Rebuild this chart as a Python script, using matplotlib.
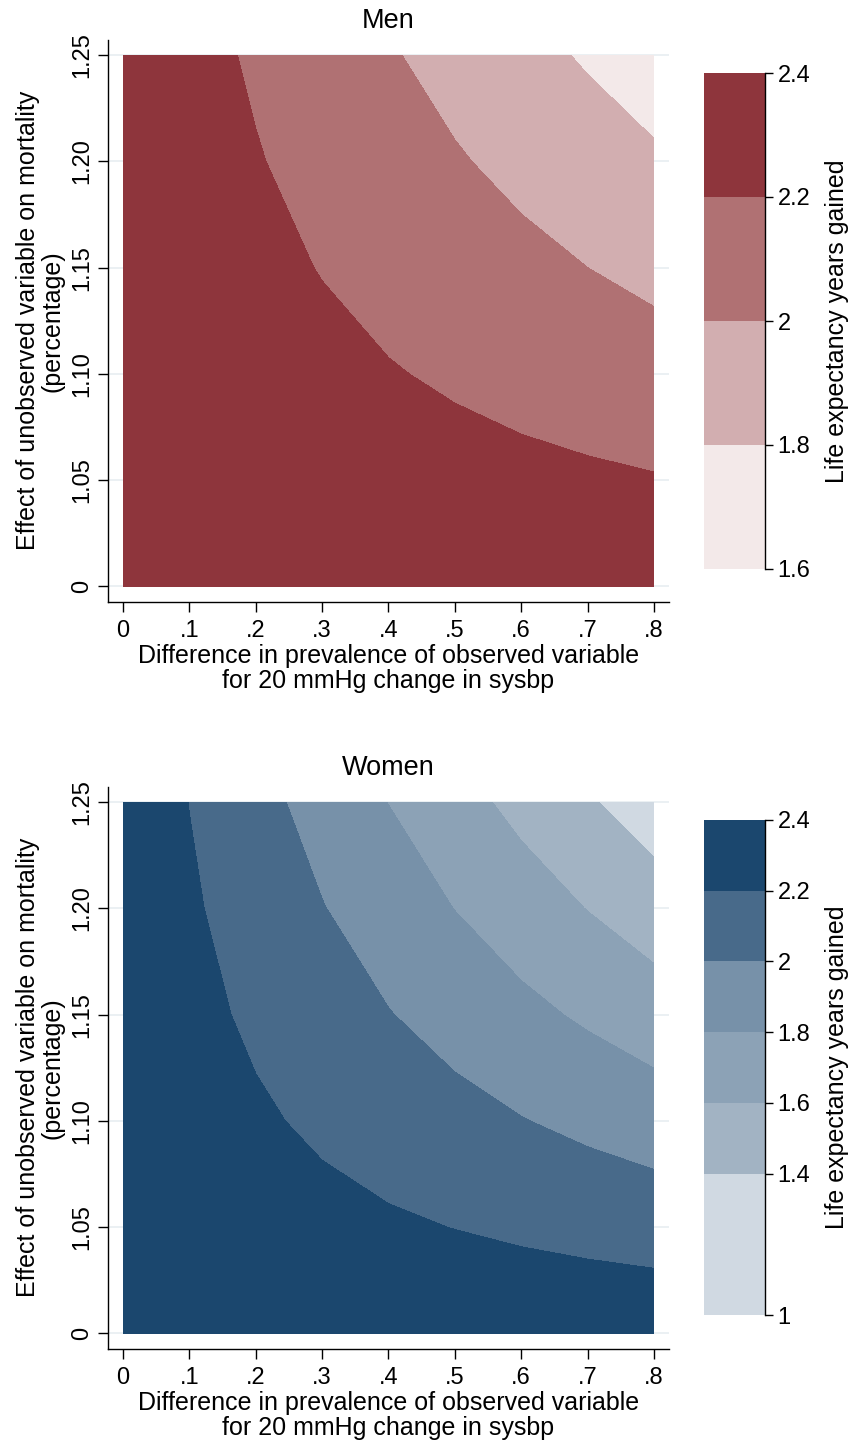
import matplotlib
matplotlib.use("Agg")
import matplotlib.pyplot as plt
import numpy as np

plt.rcParams['font.family'] = ['Liberation Sans', 'DejaVu Sans']

# ---------------- data ----------------
x_vals = [0.0, 0.1, 0.2, 0.3, 0.4, 0.5, 0.6, 0.7, 0.8]
y_vals = [1.00, 1.05, 1.10, 1.15, 1.20, 1.25]
x_ticklabels = ['0', '.1', '.2', '.3', '.4', '.5', '.6', '.7', '.8']
y_ticklabels = ['0', '1.05', '1.10', '1.15', '1.20', '1.25']

# life expectancy years gained, rows follow y_vals, columns follow x_vals
men_y100 = [2.339, 2.339, 2.339, 2.339, 2.339, 2.339, 2.339, 2.339, 2.339]
men_y105 = [2.339, 2.323, 2.307, 2.290, 2.274, 2.258, 2.242, 2.226, 2.210]
men_y110 = [2.339, 2.307, 2.274, 2.242, 2.210, 2.178, 2.145, 2.113, 2.081]
men_y115 = [2.339, 2.290, 2.242, 2.194, 2.145, 2.097, 2.048, 2.000, 1.953]
men_y120 = [2.339, 2.274, 2.210, 2.145, 2.081, 2.016, 1.953, 1.890, 1.827]
men_y125 = [2.339, 2.258, 2.178, 2.097, 2.016, 1.937, 1.858, 1.780, 1.701]

women_y100 = [2.333, 2.333, 2.333, 2.333, 2.333, 2.333, 2.333, 2.333, 2.333]
women_y105 = [2.333, 2.306, 2.279, 2.251, 2.224, 2.197, 2.170, 2.143, 2.116]
women_y110 = [2.333, 2.279, 2.224, 2.170, 2.116, 2.061, 2.007, 1.954, 1.902]
women_y115 = [2.333, 2.251, 2.170, 2.089, 2.007, 1.928, 1.849, 1.772, 1.696]
women_y120 = [2.333, 2.224, 2.116, 2.007, 1.902, 1.797, 1.696, 1.595, 1.496]
women_y125 = [2.333, 2.197, 2.061, 1.928, 1.797, 1.671, 1.545, 1.421, 1.297]

men_levels = [1.6, 1.8, 2.0, 2.2, 2.4]
men_level_labels = ['1.6', '1.8', '2', '2.2', '2.4']
men_colors = ['#F3E9E9', '#D2AEB0', '#B07173', '#8E353C']

women_levels = [1.0, 1.4, 1.6, 1.8, 2.0, 2.2, 2.4]
women_level_labels = ['1', '1.4', '1.6', '1.8', '2', '2.2', '2.4']
women_colors = ['#D0D9E2', '#A2B3C3', '#8CA2B6', '#7791A9', '#486A8A', '#1B476E']

# ---------------- figure ----------------
W, H = 853, 1444
fig = plt.figure(figsize=(W / 100, H / 100), dpi=100)

TICK_FS = 17
LAB_FS = 18
TITLE_FS = 19.5

def fx(px):
    return px / W

def fy(py):
    return 1 - py / H


def panel(ax_top, cb_top, cb_bot, Z, levels, level_labels, colors, title):
    ax_bot = ax_top + 561.5
    ax = fig.add_axes([fx(108), fy(ax_bot), fx(669) - fx(108), (ax_bot - ax_top) / H])
    X, Y = np.meshgrid(x_vals, y_vals)
    # light grid lines
    for yv in y_vals:
        ax.axhline(yv, color='#E8EEF1', lw=1.2, zorder=0)
    cs = ax.contourf(X, Y, np.array(Z), levels=levels, colors=colors, zorder=1)
    xm = 15 / 663.25
    ym = 15 / 2125.6
    ax.set_xlim(0 - xm, 0.8 + xm)
    ax.set_ylim(1.0 - ym, 1.25 + ym)
    ax.set_xticks(x_vals)
    ax.set_xticklabels(x_ticklabels)
    ax.set_yticks(y_vals)
    ax.set_yticklabels(y_ticklabels, rotation=90, va='center')
    ax.tick_params(axis='both', labelsize=TICK_FS, length=7, width=1, color='black')
    ax.tick_params(axis='x', pad=6)
    ax.tick_params(axis='y', pad=3.5)
    for s in ['top', 'right']:
        ax.spines[s].set_visible(False)
    for s in ['left', 'bottom']:
        ax.spines[s].set_linewidth(1)
    # titles
    fig.text(0.5 * (fx(108) + fx(669)), fy(ax_top - 19), title, ha='center', va='center',
             fontsize=TITLE_FS)
    fig.text(0.5 * (fx(108) + fx(669)), fy(ax_bot + 67),
             'Difference in prevalence of observed variable\nfor 20 mmHg change in sysbp',
             ha='center', va='center', fontsize=LAB_FS, linespacing=1.08)
    fig.text(fx(40), fy(ax_top + 280.75),
             'Effect of unobserved variable on mortality\n(percentage)',
             ha='center', va='center', rotation=90, fontsize=LAB_FS, linespacing=1.05)

    # colorbar
    cax = fig.add_axes([fx(704), fy(cb_bot), fx(765) - fx(704), (cb_bot - cb_top) / H])
    cb = fig.colorbar(cs, cax=cax, spacing='proportional')
    cb.outline.set_visible(False)
    cb.set_ticks(levels)
    cb.set_ticklabels(level_labels)
    cax.tick_params(axis='y', labelsize=TICK_FS, length=6, width=1, pad=3, direction='out')
    cax.plot([1, 1], [0, 1], transform=cax.transAxes, color='black', lw=1, clip_on=False)
    fig.text(fx(837), fy(0.5 * (cb_top + cb_bot)), 'Life expectancy years gained',
             rotation=90, ha='center', va='center', fontsize=LAB_FS)


men_Z = [men_y100, men_y105, men_y110, men_y115, men_y120, men_y125]
women_Z = [women_y100, women_y105, women_y110, women_y115, women_y120, women_y125]

panel(40, 73, 569, men_Z, men_levels, men_level_labels, men_colors, 'Men')
panel(787, 820, 1315, women_Z, women_levels, women_level_labels, women_colors, 'Women')

fig.savefig('out.png', dpi=100, facecolor='white')
